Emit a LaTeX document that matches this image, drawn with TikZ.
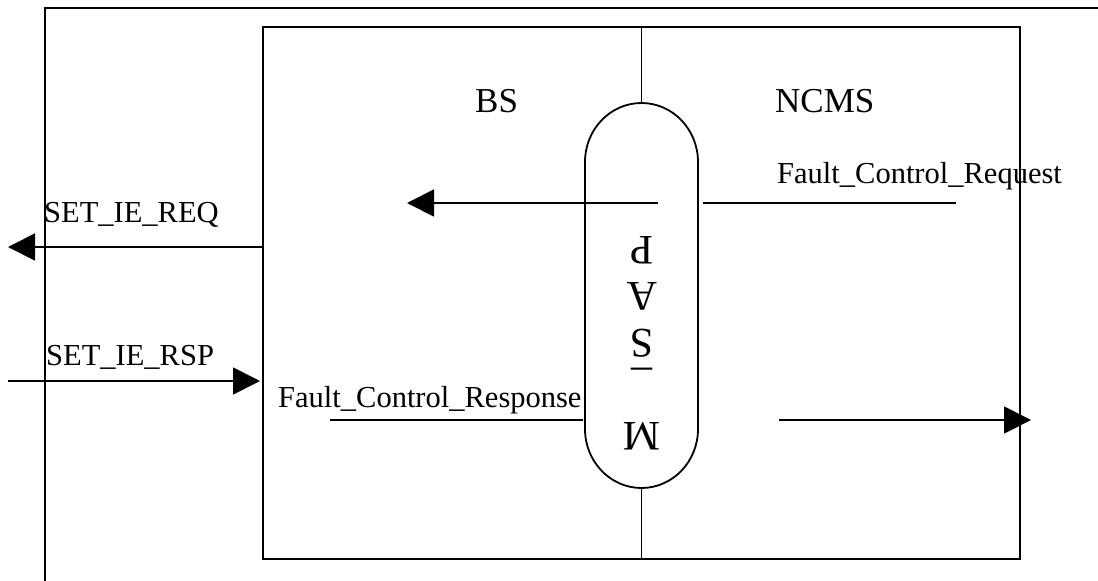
\documentclass[tikz,border=0pt]{standalone}
\usepackage{fontspec}
\setmainfont{Liberation Serif}
\usetikzlibrary{arrows.meta}
\begin{document}
\begin{tikzpicture}[x=1pt,y=-1pt,
  ln/.style={line width=1.8pt},
  arr/.style={line width=1.8pt,-{Triangle[length=27pt,width=27pt]}},
  lbl/.style={anchor=base west,inner sep=0pt,font=\fontsize{30.5}{36}\selectfont},
  big/.style={anchor=base west,inner sep=0pt,font=\fontsize{35}{42}\selectfont},
  rot/.style={anchor=base,inner sep=0pt,rotate=180,font=\fontsize{42}{48}\selectfont}]
\useasboundingbox (0,0) rectangle (1098,581);
% outer frame
\coordinate (oTR) at (1098,8);
\coordinate (oTL) at (45,8);
\coordinate (oBL) at (45,581);
\draw[line width=2.2pt] (oTR) -- (oTL) -- (oBL);
% inner box
\node[draw,line width=1.8pt,minimum width=757pt,minimum height=532pt,inner sep=0pt] (box) at (641.5,293) {};
% pill
\coordinate (pTop) at (641.5,103);
\coordinate (pBot) at (641.5,488);
\draw[ln] (585,162) .. controls (585,129.4) and (610.3,103) .. (pTop)
  .. controls (672.7,103) and (698,129.4) .. (698,162) -- (698,429)
  .. controls (698,461.6) and (672.7,488) .. (pBot)
  .. controls (610.3,488) and (585,461.6) .. (585,429) -- cycle;
\draw[ln] (box.north -| pTop) -- (pTop);
\draw[ln] (pBot) -- (box.south -| pBot);
% labels
\node[big] (bs) at (475,112) {BS};
\node[big] (ncms) at (775,112) {NCMS};
\node[lbl] (fcreq) at (777,183) {Fault\_Control\_Request};
\node[lbl] (fcrsp) at (278,407) {Fault\_Control\_Response};
\node[lbl] (req) at (44,222) {SET\_IE\_REQ};
\node[lbl] (rsp) at (46,365) {SET\_IE\_RSP};
% MSAP rotated
\node[rot] (m) at (642,422) {M};
\node[rot] (us) at (642,373) {\_};
\node[rot] (s) at (642,329) {S};
\node[rot] (a) at (642,282) {A};
\node[rot] (p) at (642,236) {P};
% connectors
\coordinate (a1s) at (658,203);
\coordinate (a1e) at (407,203);
\draw[arr] (a1s) -- (a1e);
\coordinate (l1s) at (703,203);
\coordinate (l1e) at (956,203);
\draw[ln] (l1s) -- (l1e);
\coordinate (l2s) at (330,420);
\coordinate (l2e) at (583,420);
\draw[ln] (l2s) -- (l2e);
\coordinate (a2s) at (779,420);
\coordinate (a2e) at (1031,420);
\draw[arr] (a2s) -- (a2e);
\coordinate (a3s) at (263,247);
\coordinate (a3e) at (8,247);
\draw[arr] (a3s) -- (a3e);
\coordinate (a4s) at (8,381);
\coordinate (a4e) at (260,381);
\draw[arr] (a4s) -- (a4e);
\end{tikzpicture}
\end{document}
